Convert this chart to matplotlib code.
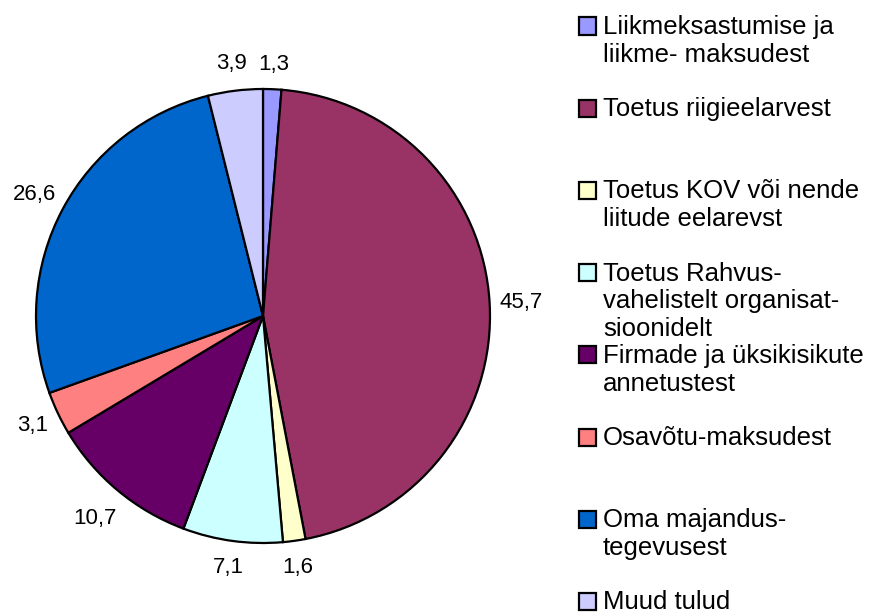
import matplotlib
matplotlib.use("Agg")
import numpy as np
import matplotlib.pyplot as plt
from matplotlib.patches import Rectangle

plt.rcParams['font.family'] = ['Liberation Sans', 'DejaVu Sans']

categories = [
    "Liikmeksastumise ja\nliikme- maksudest",
    "Toetus riigieelarvest",
    "Toetus KOV või nende\nliitude eelarevst",
    "Toetus Rahvus-\nvahelistelt organisat-\nsioonidelt",
    "Firmade ja üksikisikute\nannetustest",
    "Osavõtu-maksudest",
    "Oma majandus-\ntegevusest",
    "Muud tulud",
]
values = [1.3, 45.7, 1.6, 7.1, 10.7, 3.1, 26.6, 3.9]
value_labels = ["1,3", "45,7", "1,6", "7,1", "10,7", "3,1", "26,6", "3,9"]
colors = ["#9999FF", "#993366", "#FFFFCC", "#CCFFFF",
          "#660066", "#FF8080", "#0066CC", "#CCCCFF"]
label_dist = [1.11, 1.14, 1.12, 1.12, 1.16, 1.125, 1.14, 1.12]

W, H = 872, 616
fig = plt.figure(figsize=(W / 100, H / 100), dpi=100)

# pie centre (263, 316) px, radius 227 px
cx, cy, r = 263, 316, 227
half = 263
ax = fig.add_axes([(cx - half) / W, (H - cy - half) / H, 2 * half / W, 2 * half / H])
wedges, _ = ax.pie(values, colors=colors, startangle=90, counterclock=False,
                   wedgeprops=dict(edgecolor="black", linewidth=1.6))
ax.set_xlim(-half / r, half / r)
ax.set_ylim(-half / r, half / r)
ax.set_aspect("equal")
ax.axis("off")

for w, lab, d in zip(wedges, value_labels, label_dist):
    ang = np.deg2rad((w.theta1 + w.theta2) / 2)
    ax.text(d * np.cos(ang), d * np.sin(ang), lab, ha="center", va="center",
            fontsize=16, clip_on=False)

# legend
for i, (name, col) in enumerate(zip(categories, colors)):
    yc = 26 + 82.2 * i
    fig.patches.append(Rectangle((579 / W, (H - yc - 8.5) / H), 17 / W, 17 / H,
                                 transform=fig.transFigure, facecolor=col,
                                 edgecolor="black", linewidth=1.6))
    fig.text(603 / W, (H - yc + 11) / H, name, ha="left", va="top",
             fontsize=18.5, linespacing=1.2)

fig.savefig("out.png", dpi=100)
